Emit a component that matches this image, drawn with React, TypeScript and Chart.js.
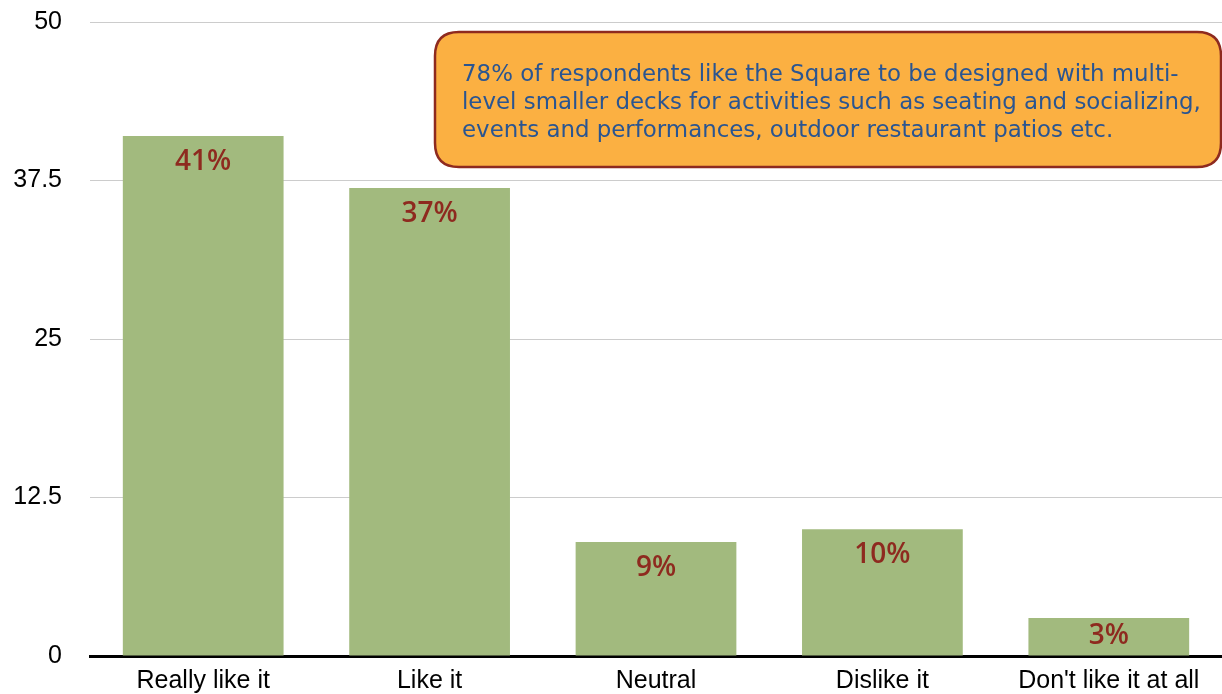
import React, { useEffect, useRef } from "react";
import { Chart, registerables } from "chart.js";

Chart.register(...registerables);

const categories = ["Really like it", "Like it", "Neutral", "Dislike it", "Don't like it at all"];
const values = [41, 36.9, 9, 10, 3];
const valueLabels = ["41%", "37%", "9%", "10%", "3%"];
const yTicks = [0, 12.5, 25, 37.5, 50];
const noteLines = [
  "78% of respondents like the Square to be designed with multi-",
  "level smaller decks for activities such as seating and socializing,",
  "events and performances, outdoor restaurant patios etc.",
];

const BAR_COLOR = "#A2BA7E";
const LABEL_COLOR = "#8E2A1F";

const labelPlugin = {
  id: "valueLabels",
  afterDatasetsDraw(chart: any) {
    const ctx = chart.ctx;
    const meta = chart.getDatasetMeta(0);
    ctx.save();
    ctx.fillStyle = LABEL_COLOR;
    ctx.font = "600 28px 'Open Sans'";
    ctx.textAlign = "center";
    ctx.textBaseline = "middle";
    meta.data.forEach((bar: any, i: number) => {
      const h = bar.base - bar.y;
      const off = Math.min(26, h / 2 - 1);
      ctx.fillText(valueLabels[i], bar.x, bar.y + off);
    });
    ctx.restore();
  },
};

const notePlugin = {
  id: "note",
  afterDraw(chart: any) {
    const ctx = chart.ctx;
    const x = 435, y = 32, w = 786, h = 135, r = 24;
    ctx.save();
    ctx.beginPath();
    ctx.moveTo(x + r, y);
    ctx.lineTo(x + w - r, y);
    ctx.quadraticCurveTo(x + w, y, x + w, y + r);
    ctx.lineTo(x + w, y + h - r);
    ctx.quadraticCurveTo(x + w, y + h, x + w - r, y + h);
    ctx.lineTo(x + r, y + h);
    ctx.quadraticCurveTo(x, y + h, x, y + h - r);
    ctx.lineTo(x, y + r);
    ctx.quadraticCurveTo(x, y, x + r, y);
    ctx.closePath();
    ctx.fillStyle = "#FBB042";
    ctx.fill();
    ctx.lineWidth = 2.5;
    ctx.strokeStyle = "#8E2A1F";
    ctx.stroke();
    ctx.fillStyle = "#2A5591";
    ctx.font = "20px 'DejaVu Sans'";
    const wMax = Math.max(...noteLines.map((l) => ctx.measureText(l).width));
    const size = Math.min(24, (20 * 739) / wMax);
    ctx.font = size.toFixed(2) + "px 'DejaVu Sans'";
    ctx.textAlign = "left";
    ctx.textBaseline = "middle";
    noteLines.forEach((line, i) => {
      ctx.fillText(line, 462, 75 + i * 28);
    });
    ctx.restore();
  },
};

export default function App() {
  const ref = useRef<HTMLCanvasElement>(null);
  useEffect(() => {
    document.body.style.margin = "0";
    const chart = new Chart(ref.current!, {
      type: "bar",
      data: {
        labels: categories,
        datasets: [
          {
            data: values,
            backgroundColor: BAR_COLOR,
            categoryPercentage: 1,
            barPercentage: 0.71,
          },
        ],
      },
      options: {
        animation: false,
        responsive: false,
        layout: { padding: { top: 22, right: 0, left: 0, bottom: 0 } },
        plugins: { legend: { display: false }, tooltip: { enabled: false } },
        scales: {
          x: {
            grid: { display: false, drawTicks: false },
            border: { display: true, color: "#000", width: 3 },
            ticks: {
              color: "#000",
              font: { family: "'Liberation Sans', Arial", size: 25 },
              padding: 10,
              maxRotation: 0,
              autoSkip: false,
            },
            afterFit(scale: any) {
              scale.height = 38;
              scale.paddingLeft = 0;
              scale.paddingRight = 0;
            },
          },
          y: {
            min: 0,
            max: 50,
            z: 1,
            afterBuildTicks(scale: any) {
              scale.ticks = yTicks.map((v) => ({ value: v }));
            },
            grid: { color: "rgba(0,0,0,0.2)", lineWidth: 1, drawTicks: false },
            border: { display: false },
            ticks: {
              color: "#000",
              font: { family: "'Liberation Sans', Arial", size: 25 },
              padding: 28,
            },
            afterFit(scale: any) {
              scale.width = 90;
              scale.paddingTop = 0;
              scale.paddingBottom = 0;
            },
          },
        },
      },
      plugins: [labelPlugin, notePlugin],
    });
    return () => chart.destroy();
  }, []);
  return <canvas ref={ref} width={1222} height={694} style={{ display: "block" }} />;
}
